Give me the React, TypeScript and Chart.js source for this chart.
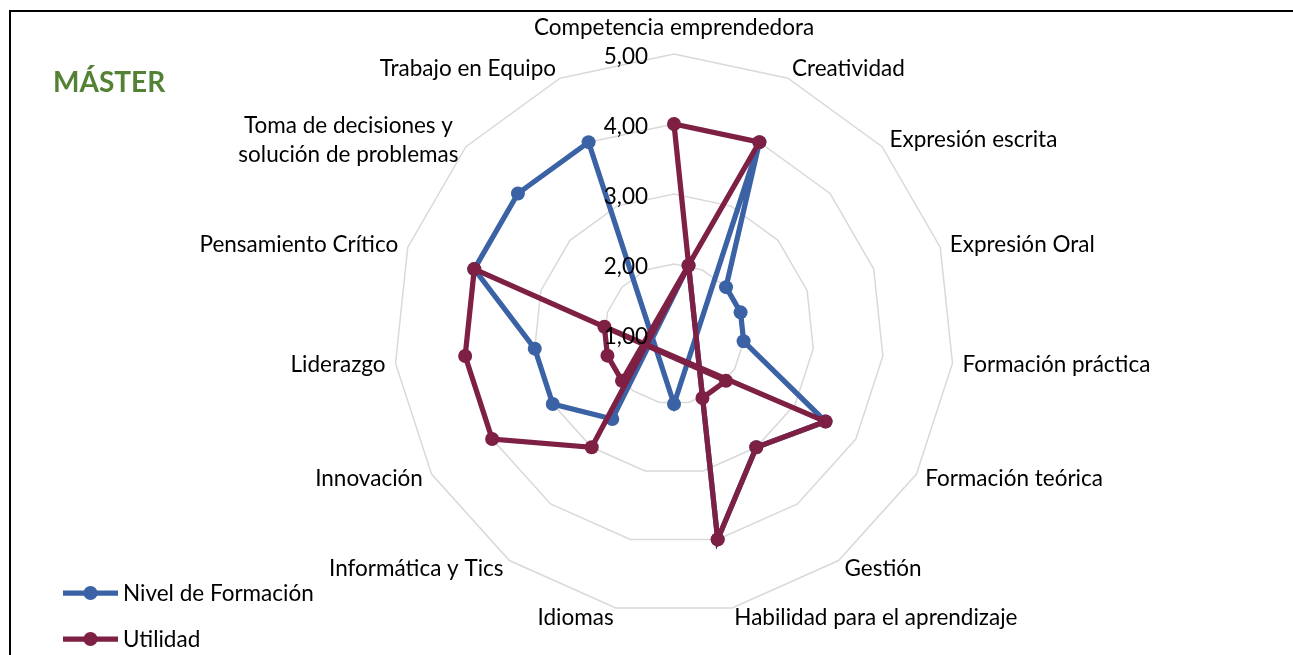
import React, { useEffect, useRef } from 'react';
import { Chart, registerables } from 'chart.js';

Chart.register(...registerables);

// ---- data ----
const categories: (string | string[])[] = [
  'Competencia emprendedora',
  'Creatividad',
  'Expresión escrita',
  'Expresión Oral',
  'Formación práctica',
  'Formación teórica',
  'Gestión',
  'Habilidad para el aprendizaje',
  'Idiomas',
  'Informática y Tics',
  'Innovación',
  'Liderazgo',
  'Pensamiento Crítico',
  ['Toma de decisiones y', 'solución de problemas'],
  'Trabajo en Equipo',
];
const nivelFormacion = [0, 4, 2, 2, 2, 3.5, 3, 4, 0, 2.5, 3, 3, 4, 4, 4];
const utilidad = [4, 4, 0, 0, 0, 3.5, 3, 4, 0, 3, 4, 4, 4, 0, 0];
const tickValues = [1, 2, 3, 4, 5];
const tickLabels = ['1,00', '2,00', '3,00', '4,00', '5,00'];
const seriesNames = ['Nivel de Formación', 'Utilidad'];
const title = 'MÁSTER';

const BLUE = '#3B62A5';
const RED = '#7E1F44';
const FONT = 'Lato, "Open Sans", sans-serif';
const FS = 22.5;
const LW = 5.25;

const excelPlugin = {
  id: 'excelText',
  afterDatasetsDraw(chart: any) {
    const s = chart.scales.r;
    const ctx = chart.ctx as CanvasRenderingContext2D;
    ctx.save();
    ctx.fillStyle = '#000';
    ctx.font = `${FS}px ${FONT}`;
    const n = categories.length;
    categories.forEach((lab, i) => {
      const p = s.getPointPosition(i, s.drawingArea + 10);
      const lines = Array.isArray(lab) ? lab : [lab];
      const deg = Math.round((i * 360) / n) % 360;
      const lh = 29;
      const maxW = Math.max(...lines.map((l) => ctx.measureText(l).width));
      let cx = p.x;
      if (deg !== 0 && deg !== 180) cx = deg < 180 ? p.x + maxW / 2 : p.x - maxW / 2;
      let cy = p.y;
      if (deg === 0) cy = p.y - 16;
      ctx.textAlign = 'center';
      ctx.textBaseline = 'middle';
      lines.forEach((l, k) => ctx.fillText(l, cx, cy + (k - (lines.length - 1) / 2) * lh));
    });
    ctx.textAlign = 'right';
    ctx.textBaseline = 'middle';
    tickValues.forEach((v, k) => {
      const d = s.getDistanceFromCenterForValue(v);
      ctx.fillText(tickLabels[k], s.xCenter - 26, s.yCenter - d + 2.5);
    });

    // title
    ctx.font = `bold 28px ${FONT}`;
    ctx.fillStyle = '#548235';
    ctx.textAlign = 'left';
    ctx.textBaseline = 'alphabetic';
    ctx.fillText(title, 53, 92);

    // legend
    const legendY = [593, 639];
    const cols = [BLUE, RED];
    ctx.font = `${FS}px ${FONT}`;
    ctx.textBaseline = 'middle';
    seriesNames.forEach((name, k) => {
      const y = legendY[k];
      ctx.strokeStyle = cols[k];
      ctx.lineWidth = LW;
      ctx.beginPath();
      ctx.moveTo(63, y);
      ctx.lineTo(118, y);
      ctx.stroke();
      ctx.fillStyle = cols[k];
      ctx.beginPath();
      ctx.arc(90.5, y, 7, 0, Math.PI * 2);
      ctx.fill();
      ctx.fillStyle = '#000';
      ctx.fillText(name, 123, y + 1);
    });
    ctx.restore();
  },
};

export default function App() {
  const ref = useRef<HTMLCanvasElement>(null);
  useEffect(() => {
    if (!ref.current) return;
    const chart = new Chart(ref.current, {
      type: 'radar',
      data: {
        labels: categories.map((c) => (Array.isArray(c) ? c.join(' ') : c)),
        datasets: [
          {
            label: seriesNames[0],
            data: nivelFormacion,
            borderColor: BLUE,
            backgroundColor: BLUE,
            pointBackgroundColor: BLUE,
            pointBorderColor: BLUE,
            borderWidth: LW,
            pointRadius: 7,
            pointBorderWidth: 0,
            fill: false,
            order: 1,
          },
          {
            label: seriesNames[1],
            data: utilidad,
            borderColor: RED,
            backgroundColor: RED,
            pointBackgroundColor: RED,
            pointBorderColor: RED,
            borderWidth: LW,
            pointRadius: 7,
            pointBorderWidth: 0,
            fill: false,
            order: 0,
          },
        ],
      },
      options: {
        responsive: false,
        animation: false,
        layout: { padding: { left: 394, right: 339, top: 54, bottom: 41 } },
        plugins: { legend: { display: false }, tooltip: { enabled: false }, title: { display: false } },
        elements: { line: { tension: 0 } },
        scales: {
          r: {
            min: 1,
            max: 5,
            ticks: { stepSize: 1, display: false },
            grid: { color: '#D9D9D9', lineWidth: 1.5 },
            angleLines: { display: false },
            pointLabels: { display: false },
            afterFit: (s: any) => {
              s.xCenter = (s.left + s.right) / 2;
              s.yCenter = (s.top + s.bottom) / 2;
              s.drawingArea = Math.min(s.right - s.left, s.bottom - s.top) / 2;
            },
          },
        },
      },
      plugins: [excelPlugin],
    });
    return () => chart.destroy();
  }, []);

  return (
    <div>
      <div
        style={{
          position: 'absolute',
          left: 9,
          top: 10,
          width: 1284,
          height: 645,
          borderLeft: '2px solid #000',
          borderTop: '2px solid #000',
          boxSizing: 'border-box',
          background: '#fff',
        }}
      />
      <canvas
        ref={ref}
        width={1293}
        height={655}
        style={{ position: 'absolute', left: 0, top: 0, width: 1293, height: 655 }}
      />
    </div>
  );
}
